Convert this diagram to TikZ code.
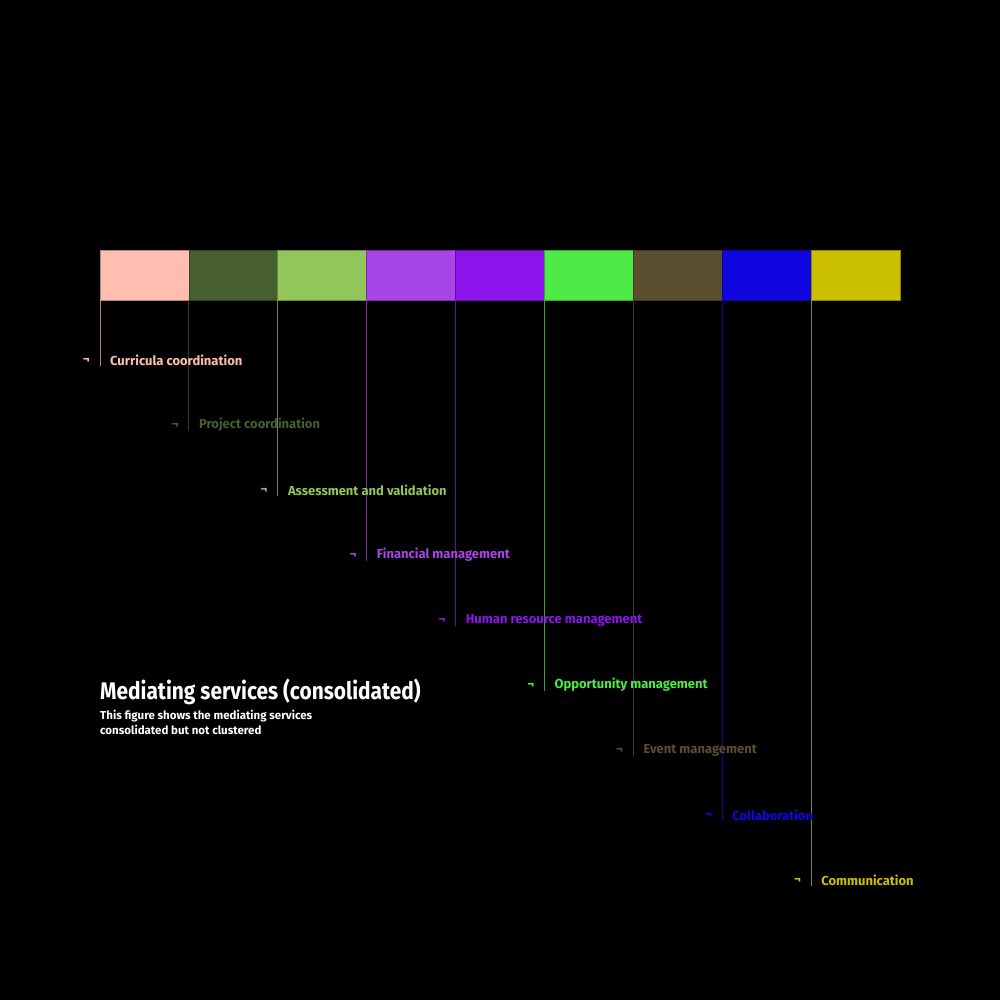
\documentclass[tikz,border=0pt]{standalone}
\usepackage{fontspec}
\setmainfont{Fira Sans}
\newfontfamily\titlefont[FakeStretch=0.87]{Fira Sans}
\usetikzlibrary{positioning}

\definecolor{curcol}{RGB}{255,190,175}
\definecolor{procol}{RGB}{70,94,48}
\definecolor{asscol}{RGB}{146,197,90}
\definecolor{fincol}{RGB}{168,69,230}
\definecolor{humcol}{RGB}{138,20,234}
\definecolor{oppcol}{RGB}{78,234,70}
\definecolor{evecol}{RGB}{90,78,48}
\definecolor{colcol}{RGB}{16,6,223}
\definecolor{comcol}{RGB}{203,192,0}

\tikzset{
  seg/.style={draw=#1!70!black, fill=#1, line width=0.8pt, minimum width=88.9pt,
    minimum height=50pt, inner sep=0pt, outer sep=0pt, anchor=north west},
  lead/.style={draw=#1, draw opacity=0.7, line width=1pt},
  lbl/.style={text=#1, font=\fontsize{13}{15}\selectfont\bfseries, anchor=west, inner sep=0pt},
  tick/.style={text=#1, font=\fontsize{13}{15}\selectfont\bfseries, anchor=east, inner sep=0pt}
}

\begin{document}
\begin{tikzpicture}[x=1pt, y=-1pt]
  % Le fond
  \fill[black] (0,0) rectangle (1000,1000);
  \useasboundingbox (0,0) rectangle (1000,1000);

  % Les segments
  \node[seg=curcol] (s1) at (100,250) {};
  \node[seg=procol] (s2) at (188.9,250) {};
  \node[seg=asscol] (s3) at (277.8,250) {};
  \node[seg=fincol] (s4) at (366.7,250) {};
  \node[seg=humcol] (s5) at (455.6,250) {};
  \node[seg=oppcol] (s6) at (544.4,250) {};
  \node[seg=evecol] (s7) at (633.3,250) {};
  \node[seg=colcol] (s8) at (722.2,250) {};
  \node[seg=comcol] (s9) at (811.1,250) {};

  % Les extremites
  \coordinate (e1) at (100,366);
  \coordinate (e2) at (188.9,431);
  \coordinate (e3) at (277.8,496);
  \coordinate (e4) at (366.7,561);
  \coordinate (e5) at (455.6,626);
  \coordinate (e6) at (544.4,691);
  \coordinate (e7) at (633.3,756);
  \coordinate (e8) at (722.2,821);
  \coordinate (e9) at (811.1,886);

  % Les traits
  \draw[lead=curcol] (s1.south west) -- (e1);
  \draw[lead=procol] (s2.south west) -- (e2);
  \draw[lead=asscol] (s3.south west) -- (e3);
  \draw[lead=fincol] (s4.south west) -- (e4);
  \draw[lead=humcol] (s5.south west) -- (e5);
  \draw[lead=oppcol] (s6.south west) -- (e6);
  \draw[lead=evecol] (s7.south west) -- (e7);
  \draw[lead=colcol] (s8.south west) -- (e8);
  \draw[lead=comcol] (s9.south west) -- (e9);

  % Les etiquettes
  \node[lbl=curcol] (l1) at (110,360) {Curricula coordination};
  \node[lbl=procol] (l2) at (198.9,425) {Project coordination};
  \node[lbl=asscol] (l3) at (287.8,490) {Assessment and validation};
  \node[lbl=fincol] (l4) at (376.7,555) {Financial management};
  \node[lbl=humcol] (l5) at (465.6,620) {Human resource management};
  \node[lbl=oppcol] (l6) at (554.4,685) {Opportunity management};
  \node[lbl=evecol] (l7) at (643.3,750) {Event management};
  \node[lbl=colcol] (l8) at (732.2,815) {Collaboration};
  \node[lbl=comcol] (l9) at (821.1,880) {Communication};

  % Les crochets
  \node[tick=curcol] (t1) at (90,361) {¬};
  \node[tick=procol] (t2) at (178.9,426) {¬};
  \node[tick=asscol] (t3) at (267.8,491) {¬};
  \node[tick=fincol] (t4) at (356.7,556) {¬};
  \node[tick=humcol] (t5) at (445.6,621) {¬};
  \node[tick=oppcol] (t6) at (534.4,686) {¬};
  \node[tick=evecol] (t7) at (623.3,751) {¬};
  \node[tick=colcol] (t8) at (712.2,816) {¬};
  \node[tick=comcol] (t9) at (801.1,881) {¬};

  % Le titre
  \node[text=white, anchor=west, inner sep=0pt, font=\titlefont\fontsize{24}{28}\selectfont\bfseries]
    (title) at (100,692) {Mediating services (consolidated)};
  \node[text=white, anchor=north west, inner sep=0pt, align=left,
    font=\fontsize{11.5}{15}\selectfont\bfseries]
    (sub) at (100,710) {This figure shows the mediating services\\consolidated but not clustered};
\end{tikzpicture}
\end{document}
